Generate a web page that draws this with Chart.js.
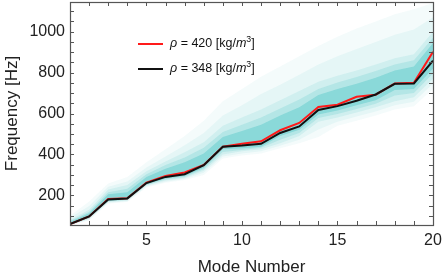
<!DOCTYPE html>
<html>
<head>
<meta charset="utf-8">
<script src="https://cdn.jsdelivr.net/npm/chart.js@4/dist/chart.umd.min.js"></script>
<style>
html,body{margin:0;padding:0;background:#fff;}
#wrap{width:444px;height:277px;position:relative;}
</style>
</head>
<body>
<div id="wrap"><canvas id="c" width="444" height="277"></canvas></div>
<script>
// Mode numbers
const modes = [1,2,3,4,5,6,7,8,9,10,11,12,13,14,15,16,17,18,19,20];
// Measured frequencies [Hz]
const rho420 = [60, 97, 182, 186, 262, 295, 312, 348, 438, 452, 464, 518, 554, 632, 643, 682, 692, 747, 750, 902];
const rho348 = [60, 97, 180, 185, 260, 290, 303, 347, 437, 443, 452, 505, 537, 617, 636, 662, 693, 745, 747, 858];
// Ensemble envelopes read from the shaded cloud (outermost to core)
const l1Up  = [100, 170, 258, 290, 362, 425, 490, 565, 660, 720, 780, 830, 880, 930, 975, 1015, 1050, 1085, 1110, 1140];
const l1Low = [52, 78, 160, 168, 238, 262, 275, 300, 380, 395, 405, 430, 455, 485, 540, 565, 590, 620, 635, 720];
const l2Up  = [90, 148, 242, 268, 336, 390, 445, 505, 590, 640, 695, 740, 790, 840, 880, 915, 950, 985, 1010, 1070];
const l2Low = [54, 82, 164, 171, 243, 267, 280, 310, 390, 405, 415, 442, 472, 522, 560, 585, 610, 640, 658, 745];
const l3Up  = [80, 130, 228, 250, 318, 365, 410, 460, 540, 580, 620, 665, 710, 755, 785, 810, 840, 870, 890, 1000];
const l3Low = [55, 85, 168, 175, 248, 272, 285, 320, 400, 415, 425, 455, 490, 560, 580, 605, 630, 660, 680, 770];
const l4Up  = [75, 120, 215, 232, 303, 348, 385, 432, 510, 545, 580, 625, 668, 720, 752, 778, 808, 840, 860, 970];
const l4Low = [56, 88, 171, 178, 251, 277, 290, 328, 412, 422, 432, 472, 505, 578, 598, 622, 648, 688, 700, 795];
const l5Up  = [70, 112, 205, 215, 290, 330, 362, 405, 485, 515, 545, 590, 630, 690, 720, 745, 775, 810, 830, 945];
const l5Low = [57, 90, 174, 180, 254, 282, 295, 335, 425, 430, 438, 490, 520, 595, 615, 640, 665, 715, 720, 820];
// Tick labels
const xTickLabels = [5, 10, 15, 20];
const yTickLabels = [200, 400, 600, 800, 1000];
const legendLabels = [{rho: '420', color: '#ff1a1a'}, {rho: '348', color: '#111111'}];

const pts = arr => arr.map((v, i) => ({x: modes[i], y: v}));
const TEAL = a => `rgba(40,184,184,${a})`;

const bandPairs = [
  [l5Up, l5Low, 0.30],
  [l4Up, l4Low, 0.17],
  [l3Up, l3Low, 0.11],
  [l2Up, l2Low, 0.07],
  [l1Up, l1Low, 0.05]
];

const datasets = [
  {label: 'rho348', data: pts(rho348), borderColor: '#111111', borderWidth: 2, pointRadius: 0, fill: false, order: 0, tension: 0},
  {label: 'rho420', data: pts(rho420), borderColor: '#ff1a1a', borderWidth: 2, pointRadius: 0, fill: false, order: 1, tension: 0}
];
bandPairs.forEach(([up, low, a]) => {
  const idx = datasets.length;
  datasets.push({data: pts(up), borderWidth: 0, pointRadius: 0, borderColor: 'rgba(0,0,0,0)',
    backgroundColor: TEAL(a), fill: idx + 1, order: idx, tension: 0});
  datasets.push({data: pts(low), borderWidth: 0, pointRadius: 0, borderColor: 'rgba(0,0,0,0)',
    backgroundColor: TEAL(0), fill: false, order: idx + 1, tension: 0});
});

const framePlugin = {
  id: 'frame',
  afterDraw(chart) {
    const ctx = chart.ctx;
    const a = chart.chartArea;
    const xs = chart.scales.x, ys = chart.scales.y;
    ctx.save();
    ctx.strokeStyle = '#555';
    ctx.lineWidth = 1.2;
    ctx.strokeRect(Math.round(a.left) + 0.5, Math.round(a.top) + 0.5,
                   Math.round(a.right - a.left), Math.round(a.bottom - a.top));
    ctx.lineWidth = 1;
    ctx.beginPath();
    ys.ticks.forEach(t => {
      const y = Math.round(ys.getPixelForValue(t.value)) + 0.5;
      ctx.moveTo(a.left, y); ctx.lineTo(a.left + 4, y);
      ctx.moveTo(a.right, y); ctx.lineTo(a.right - 4, y);
    });
    xs.ticks.forEach(t => {
      const x = Math.round(xs.getPixelForValue(t.value)) + 0.5;
      ctx.moveTo(x, a.bottom); ctx.lineTo(x, a.bottom - 4);
      ctx.moveTo(x, a.top); ctx.lineTo(x, a.top + 4);
    });
    ctx.stroke();

    // legend
    const fs = 12.5;
    const rows = [44, 69];
    legendLabels.forEach((item, i) => {
      const y = rows[i];
      ctx.strokeStyle = item.color;
      ctx.lineWidth = 2;
      ctx.beginPath();
      ctx.moveTo(138, y); ctx.lineTo(163, y);
      ctx.stroke();
      ctx.fillStyle = '#111';
      ctx.textBaseline = 'middle';
      ctx.textAlign = 'left';
      let x = 170;
      const seg = (txt, style, size, dy) => {
        ctx.font = `${style} ${size}px "Liberation Sans", Arial, sans-serif`;
        ctx.fillText(txt, x, y + (dy || 0));
        x += ctx.measureText(txt).width;
      };
      seg('\u03C1', 'italic', fs);
      seg(' = ' + item.rho + ' [kg/', 'normal', fs);
      seg('m', 'italic', fs);
      seg('3', 'normal', fs * 0.7, -4);
      seg(']', 'normal', fs);
    });
    ctx.restore();
  }
};

new Chart(document.getElementById('c'), {
  type: 'line',
  data: {datasets},
  options: {
    responsive: false,
    animation: false,
    events: [],
    layout: {padding: {top: 2, right: 11, left: 0, bottom: 0}},
    plugins: {legend: {display: false}, tooltip: {enabled: false}},
    scales: {
      x: {
        type: 'linear', min: 1, max: 20,
        border: {display: false},
        grid: {display: false, drawTicks: false},
        ticks: {
          stepSize: 1, autoSkip: false, maxRotation: 0, padding: 6,
          color: '#222', font: {family: '"Liberation Sans", Arial', size: 16},
          callback: v => xTickLabels.includes(v) ? String(v) : ''
        },
        title: {display: true, text: 'Mode Number', color: '#222',
          font: {family: '"Liberation Sans", Arial', size: 17, lineHeight: 1.1}, padding: {top: 0, bottom: 0}},
        afterFit: s => { s.height = 52; s.paddingLeft = 0; s.paddingRight = 0; }
      },
      y: {
        type: 'linear', min: 55, max: 1145,
        border: {display: false},
        grid: {display: false, drawTicks: false},
        ticks: {
          stepSize: 50, includeBounds: false, autoSkip: false, padding: 5,
          color: '#222', font: {family: '"Liberation Sans", Arial', size: 16},
          callback: v => yTickLabels.includes(v) ? String(v) : ''
        },
        title: {display: true, text: 'Frequency [Hz]', color: '#222',
          font: {family: '"Liberation Sans", Arial', size: 17, lineHeight: 1.1}, padding: {top: 3, bottom: 0}},
        afterFit: s => { s.width = 70; s.paddingTop = 0; s.paddingBottom = 0; }
      }
    }
  },
  plugins: [framePlugin]
});
</script>
</body>
</html>
